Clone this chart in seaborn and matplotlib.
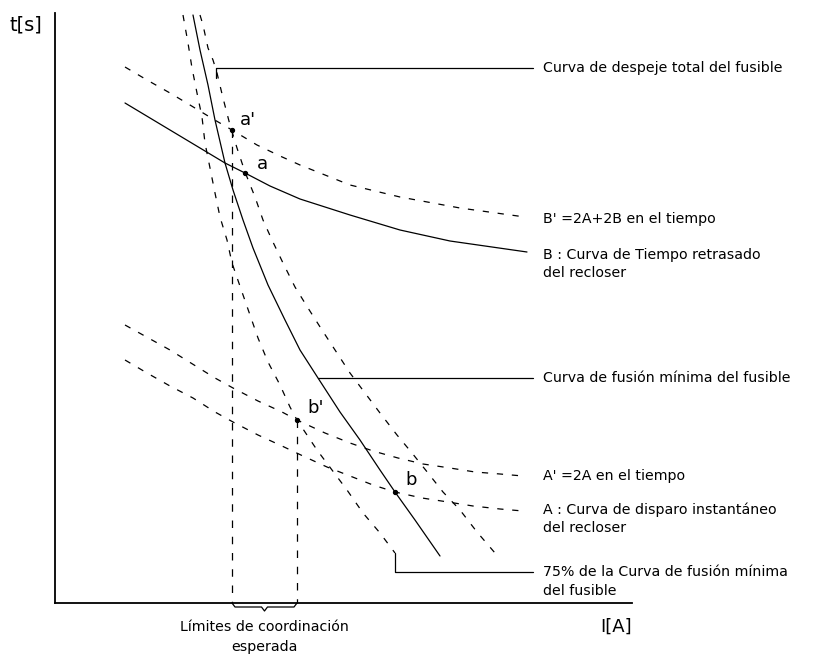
import numpy as np
import pandas as pd
import matplotlib
matplotlib.use("Agg")
import matplotlib.pyplot as plt
import seaborn as sns

# Schematic coordination curves: current I (horizontal) and time t (vertical),
# both in arbitrary diagram units.

# B : recloser delayed (time) curve
b_I = [70, 105, 145, 170, 190, 215, 245, 295, 345, 395, 472]
b_t = [500, 479, 455, 440, 430, 417, 404, 388, 373, 362, 351]

# B' = 2A + 2B in time
bp_I = [70, 92, 115, 135, 158, 177, 202, 225, 245, 295, 345, 405, 470]
bp_t = [536, 523, 510, 498, 484, 473, 458, 447, 438, 418, 406, 395, 386]

# A : recloser instantaneous curve
a_I = [70, 92, 115, 138, 160, 178, 203, 227, 248, 272, 295, 318, 340, 367, 393, 418, 445, 468]
a_t = [243, 230, 217, 205, 191, 181, 168, 157, 147, 136, 127, 118, 111, 105, 101, 97, 94, 92]

# A' = 2A in time
ap_I = [70, 115, 160, 178, 203, 227, 242, 270, 295, 318, 343, 368, 395, 420, 445, 468]
ap_t = [278, 253, 225, 215, 202, 191, 183, 170, 160, 152, 145, 139, 135, 131, 129, 127]

# Fuse minimum melting curve
mm_I = [138, 145, 153, 160, 170, 178, 188, 198, 213, 230, 245, 263, 285, 305, 325, 340, 360, 385]
mm_t = [588, 553, 518, 483, 440, 413, 383, 355, 318, 283, 253, 225, 191, 163, 133, 111, 83, 47]

# 75 % of the fuse minimum melting curve
m75_I = [128, 133, 137, 142, 147, 150, 155, 160, 165, 172, 177, 187, 195, 203, 213, 225, 235, 242,
         262, 277, 292, 308, 325, 340]
m75_t = [588, 560, 535, 510, 486, 460, 435, 410, 386, 363, 340, 311, 288, 265, 241, 218, 196, 183,
         153, 133, 113, 90, 70, 50]

# Fuse total clearing curve
tc_I = [145, 148, 153, 158, 162, 168, 175, 182, 190, 200, 208, 217, 228, 240, 253, 267, 282, 295,
        310, 325, 342, 357, 373, 388, 405, 422, 440]
tc_t = [588, 578, 555, 543, 530, 505, 478, 455, 431, 406, 383, 363, 340, 316, 295, 273, 250, 230,
        210, 190, 168, 150, 130, 111, 93, 71, 50]

# Coordination points
pt_names = ["a'", "a", "b'", "b"]
pt_I = [177, 190, 242, 340]
pt_t = [473, 430, 183, 111]

# Right-hand curve descriptions
lbl_total = "Curva de despeje total del fusible"
lbl_bp = "B' =2A+2B en el tiempo"
lbl_b = ["B : Curva de Tiempo retrasado", "del recloser"]
lbl_mm = "Curva de fusión mínima del fusible"
lbl_ap = "A' =2A en el tiempo"
lbl_a = ["A : Curva de disparo instantáneo", "del recloser"]
lbl_75 = ["75% de la Curva de fusión mínima", "del fusible"]
lbl_limits = ["Límites de coordinación", "esperada"]

sns.set_theme(style="white")
plt.rcParams["font.family"] = ["DejaVu Sans"]
plt.rcParams["text.color"] = "black"

W, H = 819, 659
fig = plt.figure(figsize=(W / 100, H / 100), dpi=100)
ax = fig.add_axes([55 / W, 56 / H, 577 / W, 590 / H])
ax.set_xlim(0, 577)
ax.set_ylim(0, 590)
ax.set_xticks([])
ax.set_yticks([])
for side in ("top", "right"):
    ax.spines[side].set_visible(False)
for side in ("left", "bottom"):
    ax.spines[side].set_color("black")
    ax.spines[side].set_linewidth(1.3)

solid = dict(color="black", linewidth=0.9)
dashed = dict(color="black", linewidth=0.9, dashes=(5, 7))


def curve(I, t, style):
    df = pd.DataFrame({"I": I, "t": t})
    sns.lineplot(data=df, x="I", y="t", sort=False, estimator=None, ax=ax, **style)


curve(b_I, b_t, solid)
curve(bp_I, bp_t, dashed)
curve(a_I, a_t, dashed)
curve(ap_I, ap_t, dashed)
curve(mm_I, mm_t, solid)
curve(m75_I, m75_t, dashed)
curve(tc_I, tc_t, dashed)

# Vertical limits dropped from a' and b' to the current axis
for name in ("a'", "b'"):
    k = pt_names.index(name)
    ax.plot([pt_I[k], pt_I[k]], [pt_t[k], 0], color="black", linewidth=0.9,
            linestyle=(0, (6, 7)), clip_on=False)

# Brace under the axis marking the expected coordination range
x0 = pt_I[pt_names.index("a'")]
x1 = pt_I[pt_names.index("b'")]
xm = (x0 + x1) / 2
ax.plot([x0, x0 + 3, xm - 3, xm, xm + 3, x1 - 3, x1],
        [0, -4, -4, -8, -4, -4, 0], color="black", linewidth=0.9, clip_on=False)

# Coordination points and their names
ax.scatter(pt_I, pt_t, s=8, color="black", zorder=5)
offsets = {"a'": (8, 10), "a": (12, 9), "b'": (10, 12), "b": (10, 12)}
for n, x, y in zip(pt_names, pt_I, pt_t):
    dx, dy = offsets[n]
    ax.text(x + dx, y + dy, n, fontsize=13, ha="left", va="center", color="black")

# Leader lines and descriptions
x_end = 478
x_txt = 488
fs = 10.2
lead = dict(color="black", linewidth=0.9, clip_on=False)
txt = dict(fontsize=fs, va="center", color="black")

# total clearing: small hook from the curve, then to the right
t_hook = 525
I_hook = np.interp(t_hook, tc_t[::-1], tc_I[::-1]) - 2
ax.plot([I_hook, I_hook, x_end], [t_hook, 535, 535], **lead)
ax.text(x_txt, 535, lbl_total, **txt)

ax.text(x_txt, 384, lbl_bp, **txt)
ax.text(x_txt, 348, lbl_b[0], **txt)
ax.text(x_txt, 330, lbl_b[1], **txt)

t_mm = 225
I_mm = np.interp(t_mm, mm_t[::-1], mm_I[::-1])
ax.plot([I_mm, x_end], [t_mm, t_mm], **lead)
ax.text(x_txt, t_mm, lbl_mm, **txt)

ax.text(x_txt, 127, lbl_ap, **txt)
ax.text(x_txt, 93, lbl_a[0], **txt)
ax.text(x_txt, 75, lbl_a[1], **txt)

ax.plot([m75_I[-1], m75_I[-1], x_end], [m75_t[-1], 31, 31], **lead)
ax.text(x_txt, 31, lbl_75[0], **txt)
ax.text(x_txt, 12, lbl_75[1], **txt)

# Axis names
ax.text(-29, 578, "t[s]", fontsize=14, ha="center", va="center", color="black")
ax.text(577, -24, "I[A]", fontsize=13, ha="right", va="center", color="black")
ax.text(xm, -24, lbl_limits[0], fontsize=fs, ha="center", va="center", color="black")
ax.text(xm, -44, lbl_limits[1], fontsize=fs, ha="center", va="center", color="black")

fig.savefig("out.png", dpi=100, facecolor="white")
